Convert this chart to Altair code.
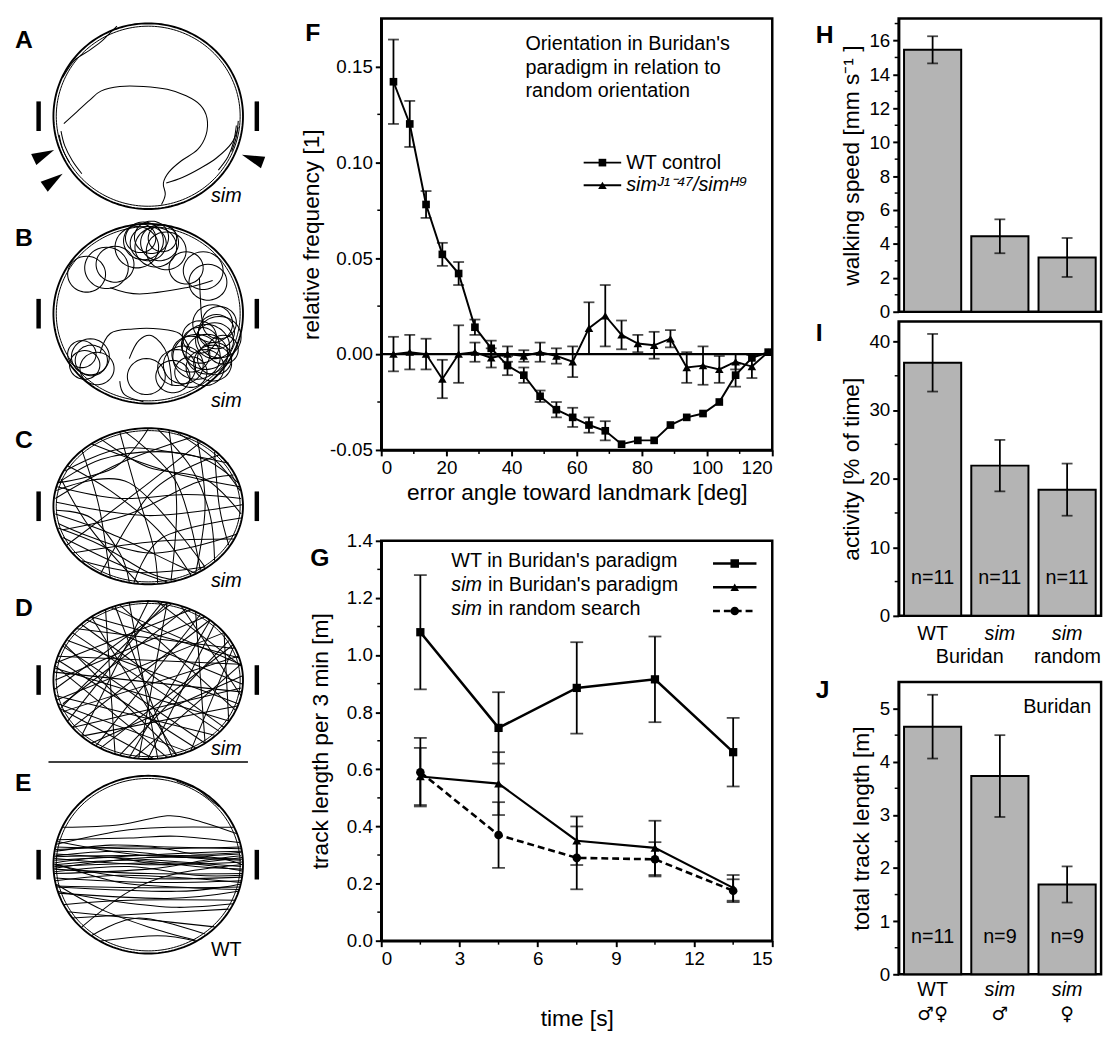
import altair as alt
import numpy as np
import pandas as pd

FONT = "Liberation Sans"

# ---------------- Panel F data ----------------
f_angle = [3.75, 8.75, 13.75, 18.75, 23.75, 28.75, 33.75, 38.75, 43.75, 48.75, 53.75, 58.75,
           63.75, 68.75, 73.75, 78.75, 83.75, 88.75, 93.75, 98.75, 103.75, 108.75, 113.75, 118.75]
f_wt = [0.142, 0.120, 0.078, 0.052, 0.042, 0.014, 0.003, -0.006, -0.011, -0.022, -0.029, -0.033,
        -0.037, -0.040, -0.047, -0.045, -0.045, -0.037, -0.033, -0.031, -0.025, -0.011, -0.002, 0.001]
f_wt_err = [0.022, 0.012, 0.007, 0.006, 0.006, 0.004, 0.004, 0.005, 0.004, 0.003, 0.004, 0.005,
            0.004, 0.005, 0.0, 0.0, 0.0, 0.0, 0.0, 0.0, 0.0, 0.006, 0.0, 0.0]
f_sim = [0.000, 0.001, 0.000, -0.013, 0.000, 0.001, -0.002, 0.000, -0.001, 0.001, -0.001, -0.004,
         0.0135, 0.020, 0.010, 0.0055, 0.0046, 0.008, -0.007, -0.006, -0.008, -0.004, -0.0065, 0.001]
f_sim_err = [0.009, 0.009, 0.008, 0.010, 0.015, 0.005, 0.005, 0.004, 0.003, 0.005, 0.004, 0.008,
             0.0135, 0.016, 0.0075, 0.0045, 0.007, 0.0045, 0.008, 0.010, 0.007, 0.004, 0.006, 0.0]

# ---------------- Panel G data ----------------
g_time = [1.5, 4.5, 7.5, 10.5, 13.5]
g_wt = [1.08, 0.745, 0.885, 0.915, 0.66]
g_wt_err = [0.20, 0.125, 0.16, 0.15, 0.12]
g_simb = [0.575, 0.55, 0.35, 0.325, 0.185]
g_simb_err = [0.10, 0.11, 0.085, 0.095, 0.045]
g_simr = [0.59, 0.37, 0.29, 0.285, 0.175]
g_simr_err = [0.12, 0.115, 0.11, 0.06, 0.04]

# ---------------- Panels H, I, J data ----------------
bar_groups = ["g1", "g2", "g3"]
h_speed = [15.45, 4.45, 3.2]
h_err = [0.8, 1.0, 1.15]
i_act = [36.9, 21.9, 18.4]
i_err = [4.2, 3.75, 3.8]
i_n = ["n=11", "n=11", "n=11"]
j_len = [4.66, 3.73, 1.69]
j_err = [0.6, 0.77, 0.34]
j_n = ["n=11", "n=9", "n=9"]
i_lab1 = ["WT", "sim", "sim"]
j_lab2 = ["\u2642\u2640", "\u2642", "\u2640"]

# ---------------- Panels A-E: arena tracks (unit-circle coordinates) ----------------
a_tracks = [
    [(-0.89, -0.08), (-0.75, 0.05), (-0.62, 0.17), (-0.5, 0.27), (-0.3, 0.32), (-0.05, 0.32), (0.2, 0.29),
     (0.4, 0.22), (0.55, 0.12), (0.62, -0.02), (0.61, -0.2), (0.52, -0.36), (0.35, -0.48), (0.22, -0.6),
     (0.16, -0.72), (0.18, -0.84), (0.14, -0.95)],
    [(0.19, -0.72), (0.36, -0.66), (0.55, -0.56), (0.72, -0.45), (0.88, -0.29), (0.95, -0.12)],
    [(-0.33, 0.97), (-0.42, 0.88), (-0.5, 0.8), (-0.62, 0.71), (-0.78, 0.6), (-0.9, 0.42)],
    [(-0.92, -0.16), (-0.88, -0.32), (-0.8, -0.48), (-0.7, -0.62)],
    [(-0.94, -0.2), (-0.9, -0.36), (-0.83, -0.5)],
    [(0.93, -0.1), (0.9, -0.28), (0.84, -0.44), (0.74, -0.58)],
    [(0.95, -0.05), (0.93, -0.22), (0.88, -0.38)],
]
a_arrows = [(-1.10, -0.415, 335), (-1.0, -0.69, 325), (1.10, -0.457, 200)]

b_tracks = [
    [(-0.51, -0.44), (-0.40, -0.22), (-0.16, -0.17), (0.12, -0.17), (0.33, -0.22), (0.44, -0.40)],
    [(-0.40, 0.29), (-0.09, 0.22), (0.40, 0.29), (0.68, 0.37)],
    [(0.54, 0.40), (0.56, 0.0), (0.58, -0.11)],
    [(-0.3, -0.75), (-0.25, -0.9), (-0.05, -0.98)],
    [(-0.2, -0.5), (-0.1, -0.3), (0.05, -0.25), (0.2, -0.45), (0.25, -0.8)],
]
b_loops = [(-0.05, 0.81, 0.21), (0.035, 0.85, 0.18), (0.12, 0.79, 0.20), (-0.12, 0.74, 0.23),
           (0.19, 0.70, 0.21), (-0.44, 0.51, 0.23), (-0.65, 0.44, 0.20), (0.58, 0.48, 0.21),
           (0.40, 0.51, 0.18), (0.68, -0.11, 0.21), (0.75, -0.26, 0.23), (0.61, -0.37, 0.25),
           (0.51, -0.48, 0.25), (0.37, -0.57, 0.21), (0.68, -0.55, 0.20), (0.79, -0.40, 0.16),
           (0.26, -0.70, 0.18), (0.54, -0.26, 0.18), (-0.61, -0.48, 0.20), (-0.67, -0.57, 0.16),
           (-0.54, -0.61, 0.18), (-0.02, -0.70, 0.20), (0.72, -0.2, 0.19), (0.45, -0.65, 0.17),
           (0.0, 0.78, 0.19), (-0.08, 0.84, 0.16), (0.08, 0.74, 0.22), (0.15, 0.84, 0.15),
           (-0.35, 0.55, 0.2), (0.63, 0.35, 0.2), (0.7, -0.3, 0.2), (0.62, -0.45, 0.22),
           (0.55, -0.35, 0.2), (0.7, -0.5, 0.18), (0.45, -0.45, 0.2), (0.6, -0.6, 0.2),
           (0.3, -0.6, 0.2), (0.75, -0.1, 0.18), (-0.6, -0.52, 0.17), (-0.7, -0.45, 0.15)]

c_tracks = [
    [(-0.97, 0.05), (0.0, -0.12), (0.99, 0.02)],
    [(-0.88, 0.45), (-0.2, 0.75), (0.85, 0.55)],
    [(-0.7, 0.72), (-0.52, 0.0), (-0.4, -0.92)],
    [(0.22, 0.97), (0.3, 0.0), (0.24, -0.96)],
    [(-0.95, -0.22), (0.0, -0.6), (0.93, -0.36)],
    [(-0.86, -0.5), (-0.1, 0.2), (0.55, 0.82)],
    [(-0.5, -0.86), (0.05, 0.2), (0.75, 0.66)],
    [(-0.25, 0.96), (0.3, 0.3), (0.55, -0.82)],
    [(-0.97, 0.2), (-0.2, 0.3), (0.6, -0.78)],
    [(-0.8, -0.6), (0.1, -0.45), (0.9, -0.42)],
    [(0.52, 0.85), (0.6, 0.0), (0.5, -0.86)],
    [(-0.98, 0.1), (-0.3, 0.55), (0.45, 0.88)],
    [(-0.6, 0.8), (0.2, 0.45), (0.97, 0.25)],
    [(-0.9, -0.4), (-0.3, -0.75), (0.2, -0.97)],
    [(-0.15, -0.98), (0.15, -0.4), (0.98, -0.15)],
    [(-0.92, 0.35), (-0.6, -0.3), (-0.1, -0.99)],
    [(0.0, 0.99), (-0.35, 0.5), (-0.95, 0.3)],
    [(0.7, 0.7), (0.75, 0.0), (0.85, -0.5)],
    [(-0.95, 0.3), (-0.5, 0.6), (0.1, 0.7), (0.6, 0.6), (0.95, 0.3)],
    [(-0.9, -0.3), (-0.2, -0.1), (0.5, 0.3), (0.9, 0.4)],
    [(-0.98, -0.1), (-0.4, -0.35), (0.3, -0.75), (0.5, -0.86)],
    [(-0.3, 0.95), (-0.15, 0.3), (0.05, -0.5), (0.1, -0.99)],
    [(0.1, 0.99), (0.45, 0.5), (0.65, -0.1), (0.7, -0.7)],
    [(-0.96, 0.25), (-0.3, 0.1), (0.4, 0.15), (0.98, 0.1)],
    [(-0.95, -0.28), (-0.5, -0.5), (0.0, -0.85), (0.3, -0.95)],
    [(-0.85, 0.52), (-0.4, 0.2), (0.1, -0.3), (0.45, -0.88)],
    [(-0.7, -0.7), (-0.1, -0.85), (0.6, -0.78)],
    [(0.3, 0.95), (0.7, 0.6), (0.97, 0.2)],
    [(-0.97, -0.05), (-0.6, -0.15), (-0.3, -0.6), (-0.2, -0.97)],
    [(-0.5, 0.86), (0.0, 0.5), (0.6, 0.35), (0.98, -0.1)],
]

d_tracks = [
    [(-0.95, 0.3), (0.97, 0.2)], [(-0.9, -0.4), (0.95, 0.3)], [(-0.7, 0.7), (0.8, -0.6)],
    [(-0.6, 0.8), (0.3, -0.95)], [(-0.98, 0.0), (0.6, 0.8)], [(-0.9, -0.3), (0.4, 0.9)],
    [(-0.8, -0.6), (0.98, -0.1)], [(-0.5, -0.86), (0.9, 0.45)], [(-0.2, 0.98), (0.1, -0.99)],
    [(0.2, 0.98), (-0.1, -0.99)], [(-0.95, 0.25), (0.5, -0.86)], [(-0.85, 0.5), (0.95, -0.3)],
    [(-0.4, 0.92), (0.97, 0.2)], [(-0.97, -0.2), (0.7, -0.7)], [(-0.92, -0.35), (0.2, 0.98)],
    [(-0.3, -0.95), (0.85, 0.5)], [(0.5, 0.86), (0.6, -0.8)], [(-0.7, -0.7), (0.0, 0.99)],
    [(-0.99, 0.1), (0.98, -0.15)], [(-0.6, -0.8), (0.99, 0.05)], [(-0.88, 0.45), (0.3, -0.95)],
    [(-0.75, 0.65), (0.9, 0.4)], [(-0.95, -0.3), (0.4, -0.9)], [(0.35, 0.93), (0.98, -0.2)],
    [(-0.45, 0.89), (-0.35, -0.93)], [(0.65, 0.75), (-0.2, -0.98)], [(-0.8, 0.6), (0.75, -0.65)],
    [(-0.98, 0.15), (0.85, -0.52)], [(-0.9, 0.43), (0.6, -0.8)], [(-0.65, 0.76), (0.99, -0.05)],
    [(-0.96, -0.25), (0.8, 0.6)], [(-0.55, -0.83), (0.55, 0.83)], [(-0.99, -0.12), (0.25, 0.97)],
    [(-0.8, -0.6), (0.65, 0.76)], [(-0.3, 0.95), (0.92, -0.38)], [(0.1, 0.99), (0.98, 0.18)],
    [(-0.97, 0.22), (0.45, 0.89)], [(-0.7, -0.71), (0.94, -0.33)], [(-0.15, -0.99), (0.98, 0.2)],
    [(0.45, -0.89), (0.9, 0.42)], [(-0.93, -0.36), (0.05, -0.99)], [(-0.85, -0.52), (0.15, 0.99)],
    [(0.0, -0.99), (0.7, 0.71)], [(-0.6, 0.8), (0.96, 0.28)], [(-0.98, 0.18), (0.2, -0.98)],
    [(0.25, -0.97), (-0.35, 0.94)], [(0.8, 0.6), (0.85, -0.53)],
]

e_tracks = [
    [(-0.98, 0.1), (-0.3, 0.15), (0.4, 0.08), (0.98, 0.05)],
    [(-0.99, 0.0), (-0.2, 0.05), (0.5, -0.02), (0.99, -0.05)],
    [(-0.99, -0.05), (0.0, -0.1), (0.99, -0.1)],
    [(-0.99, 0.05), (0.2, 0.12), (0.98, 0.15)],
    [(-0.97, 0.2), (0.0, 0.18), (0.97, 0.2)],
    [(-0.95, 0.28), (-0.2, 0.3), (0.3, 0.32), (0.96, 0.25)],
    [(-0.9, 0.42), (-0.3, 0.45), (0.2, 0.55), (0.5, 0.5), (0.93, 0.35)],
    [(-0.98, -0.15), (0.0, -0.2), (0.98, -0.18)],
    [(-0.97, -0.25), (0.3, -0.3), (0.97, -0.22)],
    [(-0.95, -0.32), (0.2, -0.38), (0.95, -0.3)],
    [(-0.9, -0.45), (-0.2, -0.4), (0.92, -0.4)],
    [(-0.8, -0.6), (0.0, -0.55), (0.85, -0.5)],
    [(-0.7, -0.7), (-0.2, -0.3), (0.3, -0.1), (0.98, 0.0)],
    [(-0.99, 0.02), (-0.4, 0.08), (0.2, 0.0), (0.99, 0.08)],
    [(-0.99, -0.08), (-0.2, -0.02), (0.5, -0.12), (0.99, -0.12)],
    [(-0.98, 0.12), (0.1, 0.05), (0.98, -0.02)],
    [(-0.96, 0.26), (0.0, 0.1), (0.97, 0.12)],
    [(-0.6, -0.8), (-0.1, -0.6), (0.6, -0.78)],
    [(-0.99, -0.1), (0.0, -0.05), (0.6, 0.05), (0.98, 0.1)],
    [(-0.98, 0.15), (-0.4, 0.22), (0.2, 0.2), (0.98, 0.18)],
    [(0.3, 0.94), (0.5, 0.86), (0.6, 0.78), (0.75, 0.65)],
    [(-0.97, -0.22), (-0.5, -0.5), (0.0, -0.7), (0.5, -0.85)],
    [(-0.95, 0.0), (-0.3, -0.2), (0.3, -0.25), (0.96, -0.28)],
    [(-0.99, 0.07), (0.0, 0.0), (0.99, 0.03)],
    [(-0.99, -0.02), (0.3, 0.02), (0.99, -0.07)],
    [(-0.98, -0.18), (-0.3, -0.12), (0.4, -0.15), (0.98, -0.2)],
    [(-0.99, 0.0), (-0.1, -0.15), (0.99, -0.14)],
    [(-0.97, -0.24), (0.0, -0.26), (0.97, -0.25)],
    [(-0.98, 0.17), (0.0, 0.2), (0.5, 0.12), (0.98, 0.14)],
    [(-0.96, -0.3), (-0.3, -0.42), (0.3, -0.48), (0.9, -0.44)],
    [(-0.85, -0.53), (0.0, -0.62), (0.7, -0.7)],
    [(-0.5, -0.86), (0.1, -0.8), (0.5, -0.86)],
    [(-0.99, 0.09), (0.5, 0.1), (0.99, 0.0)],
    [(-0.99, -0.04), (0.0, 0.08), (0.99, 0.06)],
    [(-0.97, 0.23), (-0.3, 0.38), (0.2, 0.42), (0.9, 0.42)],
]

ONE = pd.DataFrame({"k": [0]})
ARROW = "M-1,-0.55L1,0L-1,0.55Z"


def T(text, x, y, size=20, align="left", weight="normal", style="normal", font=FONT,
      baseline="middle", lineHeight=None):
    kw = dict(align=align, baseline=baseline, fontSize=size, fontWeight=weight,
              fontStyle=style, color="black", font=font)
    if lineHeight is not None:
        kw["lineHeight"] = lineHeight
    return alt.Chart(ONE).mark_text(**kw).encode(x=alt.value(x), y=alt.value(y), text=alt.value(text))


def anchor(x, y=-1.5):
    # tiny white mark used only to fix the layout extent of a column
    return alt.Chart(ONE).mark_rule(color="white", strokeWidth=1).encode(
        x=alt.value(x), x2=alt.value(x + 1), y=alt.value(y))


NOVIEW = alt.ViewBackground(stroke="transparent", strokeWidth=0)
LW = 260

# ---------------- arena panels ----------------
ring_t = np.linspace(0, 2 * np.pi, 181)
ring_df = pd.DataFrame({"i": np.arange(181), "x": np.cos(ring_t), "y": np.sin(ring_t)})


def arena(tracks, vh, top, bot, letter, letter_y, sub, sub_y, interp, loops=(),
          arrows=(), sep=None, anchors=()):
    XS = alt.Scale(domain=[-1, 1], range=[45, 237], nice=False, zero=False)
    YS = alt.Scale(domain=[-1, 1], range=[bot, top], nice=False, zero=False)

    def X(f):
        return alt.X(f"{f}:Q", scale=XS, axis=None)

    def Y(f):
        return alt.Y(f"{f}:Q", scale=YS, axis=None)

    rows = []
    for t, pts in enumerate(tracks):
        for i, (x, y) in enumerate(pts):
            rows.append({"t": t, "i": i, "x": x, "y": y})
    la = np.linspace(0, 2 * np.pi, 41)
    for k, (cx, cy, r) in enumerate(loops):
        for i, a in enumerate(la):
            rows.append({"t": 1000 + k, "i": i, "x": cx + r * np.cos(a), "y": cy + r * np.sin(a)})
    tdf = pd.DataFrame(rows)

    layers = [anchor(a) for a in anchors]
    layers.append(alt.Chart(ring_df).mark_line(color="black", strokeWidth=1.9).encode(
        x=X("x"), y=Y("y"), order="i:Q"))
    layers.append(alt.Chart(ring_df).transform_calculate(xx="datum.x*0.97", yy="datum.y*0.97")
                  .mark_line(color="black", strokeWidth=1.0).encode(x=X("xx"), y=Y("yy"), order="i:Q"))
    layers.append(alt.Chart(tdf).mark_line(color="black", strokeWidth=1.05, interpolate=interp).encode(
        x=X("x"), y=Y("y"), detail="t:N", order="i:Q"))
    cy = (top + bot) / 2
    for lx in (30, 251):
        layers.append(alt.Chart(ONE).mark_rule(color="black", strokeWidth=4.5).encode(
            x=alt.value(lx), y=alt.value(cy - 15), y2=alt.value(cy + 15)))
    for (ax, ay, ang) in arrows:
        layers.append(alt.Chart(pd.DataFrame({"x": [ax], "y": [ay]})).mark_point(
            shape=ARROW, filled=True, size=520, color="black", opacity=1, angle=ang).encode(
            x=X("x"), y=Y("y")))
    if sep is not None:
        layers.append(alt.Chart(ONE).mark_rule(color="black", strokeWidth=1.5).encode(
            x=alt.value(40), x2=alt.value(242), y=alt.value(sep)))
    layers.append(T(letter, 6, letter_y, size=25, weight="bold"))
    layers.append(T(sub, 220, sub_y, size=20, align="center", style="italic" if sub == "sim" else "normal"))
    return alt.layer(*layers).properties(width=LW, height=vh, view=NOVIEW)


A = arena(a_tracks, 200, 5, 193, "A", 22, "sim", 180, "cardinal", arrows=a_arrows, anchors=(0, 261))
B = arena(b_tracks, 200, 8, 190, "B", 22, "sim", 187, "cardinal", loops=b_loops)
C = arena(c_tracks, 180, 15, 173, "C", 27, "sim", 170, "cardinal")
D = arena(d_tracks, 180, 10, 170, "D", 17, "sim", 160, "linear", sep=173)
E = arena(e_tracks, 200, 7, 187, "E", 14, "WT", 183, "cardinal")


# ---------------- helpers for line panels ----------------
def series(df, xf, yf, ef, X, Y, shape, msize, lw=2.2, dash=None, cap=11):
    base = alt.Chart(df).transform_filter(f"datum.{ef} > 0").transform_calculate(
        lo=f"datum.{yf} - datum.{ef}", hi=f"datum.{yf} + datum.{ef}")
    out = [
        base.mark_rule(color="black", strokeWidth=1.8).encode(x=X(xf), y=Y("lo"), y2=alt.Y2("hi:Q")),
        base.mark_tick(color="black", orient="horizontal", size=cap, thickness=1.8).encode(x=X(xf), y=Y("lo")),
        base.mark_tick(color="black", orient="horizontal", size=cap, thickness=1.8).encode(x=X(xf), y=Y("hi")),
    ]
    lkw = dict(color="black", strokeWidth=lw)
    if dash:
        lkw["strokeDash"] = dash
    out.append(alt.Chart(df).mark_line(**lkw).encode(x=X(xf), y=Y(yf)))
    out.append(alt.Chart(df).mark_point(shape=shape, filled=True, size=msize, color="black", opacity=1).encode(
        x=X(xf), y=Y(yf)))
    return out


def minor_ticks(xvals, yvals, X, Y, h):
    out = []
    if xvals:
        out.append(alt.Chart(pd.DataFrame({"m": xvals})).mark_rule(color="black", strokeWidth=1.5).encode(
            x=X("m"), y=alt.value(h), y2=alt.value(h + 4)))
    if yvals:
        out.append(alt.Chart(pd.DataFrame({"m": yvals})).mark_rule(color="black", strokeWidth=1.5).encode(
            y=Y("m"), x=alt.value(0), x2=alt.value(-4)))
    return out


# ---------------- Panel F ----------------
FW, FH = 396, 437
f_df = pd.DataFrame({"a": f_angle, "wt": f_wt, "wte": f_wt_err, "sim": f_sim, "sime": f_sim_err})
FXS = alt.Scale(domain=[0, 120], nice=False, zero=False)
FYS = alt.Scale(domain=[-0.05, 0.175], nice=False, zero=False)
FXA = alt.Axis(values=[0, 20, 40, 60, 80, 100, 120], title="error angle toward landmark [deg]", titlePadding=4)
FYA = alt.Axis(values=[-0.05, 0, 0.05, 0.1, 0.15], format=".2f", title="relative frequency [1]",
               labelExpr="replace(datum.label, '\u2212', '-')", titlePadding=6)


def FX(f):
    return alt.X(f"{f}:Q", scale=FXS, axis=FXA)


def FY(f):
    return alt.Y(f"{f}:Q", scale=FYS, axis=FYA)


f_layers = [anchor(-107), anchor(419)]
f_layers.append(alt.Chart(pd.DataFrame({"z": [0.0]})).mark_rule(color="black", strokeWidth=2.2).encode(y=FY("z")))
f_layers += minor_ticks([10, 30, 50, 70, 90, 110], [-0.025, 0.025, 0.075, 0.125], FX, FY, FH)
f_layers += series(f_df, "a", "sim", "sime", FX, FY, "triangle-up", 75, lw=1.9, cap=11)
f_layers += series(f_df, "a", "wt", "wte", FX, FY, "square", 60, lw=2.0, cap=11)
f_layers.append(T(["Orientation in Buridan's", "paradigm in relation to", "random orientation"],
                  146, 16, size=20, baseline="top", lineHeight=24))
for yy, shp, sz in ((146, "square", 60), (169, "triangle-up", 75)):
    f_layers.append(alt.Chart(ONE).mark_rule(color="black", strokeWidth=2).encode(
        x=alt.value(205), x2=alt.value(243), y=alt.value(yy)))
    f_layers.append(alt.Chart(ONE).mark_point(shape=shp, filled=True, size=sz, color="black", opacity=1).encode(
        x=alt.value(224), y=alt.value(yy)))
f_layers.append(T("WT control", 248, 146, size=20))
f_layers.append(T("sim\u1d36\u00b9\u207b\u2074\u2077/sim\u1d34\u2079", 248, 169, size=20, style="italic"))
f_layers.append(T("F", -77, 15, size=25, weight="bold"))
F = alt.layer(*f_layers).properties(width=FW, height=FH)

# ---------------- Panel G ----------------
GW, GH = 396, 405
g_df = pd.DataFrame({"t": g_time, "wt": g_wt, "wte": g_wt_err, "sb": g_simb, "sbe": g_simb_err,
                     "sr": g_simr, "sre": g_simr_err})
GXS = alt.Scale(domain=[0, 15], nice=False, zero=False)
GYS = alt.Scale(domain=[0, 1.4], nice=False, zero=False)
GXA = alt.Axis(values=[0, 3, 6, 9, 12, 15], title="time [s]", titlePadding=40)
GYA = alt.Axis(values=[0, 0.2, 0.4, 0.6, 0.8, 1.0, 1.2, 1.4], format=".1f",
               title="track length per 3 min [m]", titlePadding=14)


def GX(f):
    return alt.X(f"{f}:Q", scale=GXS, axis=GXA)


def GY(f):
    return alt.Y(f"{f}:Q", scale=GYS, axis=GYA)


g_layers = []
g_layers += minor_ticks([1.5, 4.5, 7.5, 10.5, 13.5], [0.1, 0.3, 0.5, 0.7, 0.9, 1.1, 1.3], GX, GY, GH)
g_layers += series(g_df, "t", "sr", "sre", GX, GY, "circle", 75, lw=2.6, dash=[7, 4], cap=13)
g_layers += series(g_df, "t", "sb", "sbe", GX, GY, "triangle-up", 80, lw=2.2, cap=13)
g_layers += series(g_df, "t", "wt", "wte", GX, GY, "square", 70, lw=2.6, cap=13)
g_layers.append(T("WT in Buridan's paradigm", 71, 21, size=20))
g_layers.append(T("sim", 71, 45, size=20, style="italic"))
g_layers.append(T("in Buridan's paradigm", 108, 45, size=20))
g_layers.append(T("sim", 71, 69, size=20, style="italic"))
g_layers.append(T("in random search", 108, 69, size=20))
for yy, shp, dash in ((23, "square", None), (47, "triangle-up", None), (71, "circle", [7, 4])):
    kw = dict(color="black", strokeWidth=2.5)
    if dash:
        kw["strokeDash"] = dash
    g_layers.append(alt.Chart(ONE).mark_rule(**kw).encode(x=alt.value(336), x2=alt.value(380), y=alt.value(yy)))
    g_layers.append(alt.Chart(ONE).mark_point(shape=shp, filled=True, size=75, color="black", opacity=1).encode(
        x=alt.value(358), y=alt.value(yy)))
g_layers.append(T("G", -72, 18, size=25, weight="bold"))
G = alt.layer(*g_layers).properties(width=GW, height=GH)


# ---------------- bar panels ----------------
BW = 205


def bar_panel(vals, errs, dom, ticks, minor, title, h, letter, letter_y, ns=None, extra=(), anchors=()):
    df = pd.DataFrame({"g": bar_groups, "v": vals, "e": errs})
    if ns is not None:
        df["n"] = ns
    XS = alt.Scale(domain=bar_groups, paddingInner=0.15, paddingOuter=0.08)
    YS = alt.Scale(domain=dom, nice=False, zero=False)
    YA = alt.Axis(values=ticks, title=title, titlePadding=6)
    X = alt.X("g:N", scale=XS, axis=None, sort=None)

    def Y(f):
        return alt.Y(f"{f}:Q", scale=YS, axis=YA)

    base = alt.Chart(df).transform_calculate(lo="datum.v - datum.e", hi="datum.v + datum.e")
    layers = [anchor(a) for a in anchors]
    layers += [
        alt.Chart(df).mark_bar(fill="#b4b4b4", stroke="black", strokeWidth=2).encode(x=X, y=Y("v")),
        base.mark_rule(color="black", strokeWidth=1.8).encode(x=X, y=Y("lo"), y2=alt.Y2("hi:Q")),
        base.mark_tick(color="black", orient="horizontal", size=11, thickness=1.8).encode(x=X, y=Y("lo")),
        base.mark_tick(color="black", orient="horizontal", size=11, thickness=1.8).encode(x=X, y=Y("hi")),
        alt.Chart(pd.DataFrame({"m": minor})).mark_rule(color="black", strokeWidth=1.5).encode(
            y=Y("m"), x=alt.value(0), x2=alt.value(-4)),
    ]
    if ns is not None:
        layers.append(alt.Chart(df).mark_text(fontSize=20, font=FONT, color="black", baseline="middle").encode(
            x=X, y=alt.value(h - 38), text="n:N"))
    for fn in extra:
        layers += fn(X)
    layers.append(T(letter, -84, letter_y, size=25, weight="bold"))
    return alt.layer(*layers).properties(width=BW, height=h)


def i_labels(X):
    df = pd.DataFrame({"g": bar_groups, "l": i_lab1})
    return [
        alt.Chart(df).transform_filter("datum.l == 'WT'").mark_text(
            fontSize=20, font=FONT, color="black").encode(x=X, y=alt.value(316), text="l:N"),
        alt.Chart(df).transform_filter("datum.l != 'WT'").mark_text(
            fontSize=20, font=FONT, color="black", fontStyle="italic").encode(x=X, y=alt.value(316), text="l:N"),
        T("Buridan", 72, 340, size=20, align="center"),
        T("random", 171, 340, size=20, align="center"),
    ]


def j_labels(X):
    df = pd.DataFrame({"g": bar_groups, "l": i_lab1, "s": j_lab2})
    return [
        alt.Chart(df).transform_filter("datum.l == 'WT'").mark_text(
            fontSize=20, font=FONT, color="black").encode(x=X, y=alt.value(312), text="l:N"),
        alt.Chart(df).transform_filter("datum.l != 'WT'").mark_text(
            fontSize=20, font=FONT, color="black", fontStyle="italic").encode(x=X, y=alt.value(312), text="l:N"),
        alt.Chart(df).mark_text(fontSize=19, font="DejaVu Sans", fontWeight="bold", color="black").encode(
            x=X, y=alt.value(336), text="s:N"),
        T("Buridan", 195, 25, size=20, align="right"),
    ]


H = bar_panel(h_speed, h_err, [0, 17.3], [0, 2, 4, 6, 8, 10, 12, 14, 16], [1, 3, 5, 7, 9, 11, 13, 15, 17],
              "walking speed [mm s\u207b\u00b9 ]", 297, "H", 17, anchors=(-95,))
I = bar_panel(i_act, i_err, [0, 42.9], [0, 10, 20, 30, 40], [5, 15, 25, 35],
              "activity [% of time]", 298, "I", 12, ns=i_n, extra=(i_labels,))
J = bar_panel(j_len, j_err, [0, 5.5], [0, 1, 2, 3, 4, 5], [0.5, 1.5, 2.5, 3.5, 4.5],
              "total track length [m]", 296, "J", 8, ns=j_n, extra=(j_labels,))
SPACER = alt.Chart(ONE).mark_point(opacity=0).encode(x=alt.value(0), y=alt.value(0)).properties(
    width=BW, height=47, view=NOVIEW)

left = alt.vconcat(A, B, C, D, E, spacing=0, bounds="flush")
mid = alt.vconcat(F, G, spacing=92, bounds="flush")
right = alt.vconcat(H, I, SPACER, J, spacing=10, bounds="flush")
chart = alt.hconcat(left, mid, right, spacing=5, bounds="full")

chart = chart.properties(padding={"left": 0, "top": 0, "right": 4, "bottom": 4}).configure(
    font=FONT
).configure_axis(
    domainColor="black", domainWidth=2.5, tickColor="black", tickWidth=2, tickSize=6,
    labelColor="black", labelFontSize=19, labelFont=FONT, titleColor="black", titleFontSize=23,
    titleFont=FONT, titleFontWeight="normal", grid=False, labelPadding=3
).configure_view(stroke="black", strokeWidth=2.5)

chart.save("out.html", embed_options={"renderer": "svg", "actions": False})
